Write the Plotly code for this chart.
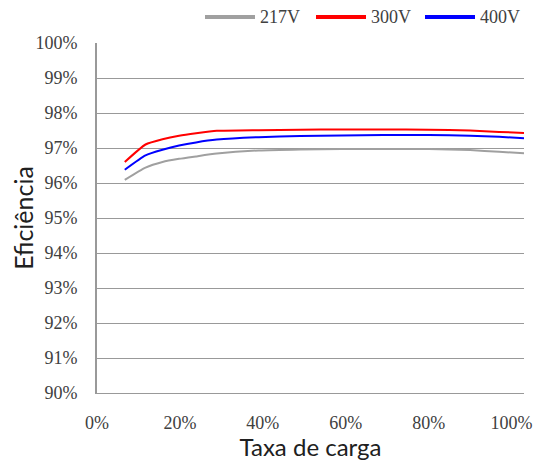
import plotly.graph_objects as go

load = [0.067, 0.117, 0.158, 0.198, 0.239, 0.289, 0.39, 0.49, 0.59, 0.69, 0.80, 0.90, 0.97, 1.03]
eff_217 = [0.9609, 0.9644, 0.9660, 0.9669, 0.9676, 0.9684, 0.9693, 0.9696, 0.9697, 0.9697, 0.9697, 0.9694, 0.9689, 0.9685]
eff_300 = [0.9660, 0.9710, 0.9725, 0.9735, 0.9742, 0.9749, 0.9751, 0.9752, 0.9753, 0.9753, 0.9752, 0.9750, 0.9746, 0.9743]
eff_400 = [0.9638, 0.9679, 0.9695, 0.9707, 0.9716, 0.9724, 0.9731, 0.9734, 0.9736, 0.9737, 0.9737, 0.9735, 0.9732, 0.9728]

series = [("217V", eff_217, "#a0a0a0"), ("300V", eff_300, "#ff0000"), ("400V", eff_400, "#0000ff")]

x_ticks = [0, 0.2, 0.4, 0.6, 0.8, 1.0]
x_labels = ["0%", "20%", "40%", "60%", "80%", "100%"]
y_ticks = [0.90, 0.91, 0.92, 0.93, 0.94, 0.95, 0.96, 0.97, 0.98, 0.99, 1.00]
y_labels = ["90%", "91%", "92%", "93%", "94%", "95%", "96%", "97%", "98%", "99%", "100%"]

fig = go.Figure()
for name, vals, col in series:
    fig.add_trace(go.Scatter(x=load, y=vals, mode="lines", name=name,
                             line=dict(color=col, width=2, shape="spline", smoothing=0.5),
                             showlegend=False))

W, H = 544, 453
L, R, T, B = 89, 28, 35, 68
PW, PH = W - L - R, H - T - B
serif = "Liberation Serif, serif"
tickfont = dict(family=serif, size=18, color="#404040")

# manual legend (pixel layout converted to paper coordinates)
leg_y = (PH + T - 9) / PH
leg_starts = [197, 308, 417]
shapes, annos = [], []
for (name, _, col), x0 in zip(series, leg_starts):
    shapes.append(dict(type="line", xref="paper", yref="paper",
                       x0=(x0 - L) / PW, x1=(x0 + 50 - L) / PW, y0=leg_y, y1=leg_y,
                       line=dict(color=col, width=4)))
    annos.append(dict(xref="paper", yref="paper", x=(x0 + 53 - L) / PW, y=leg_y,
                      xanchor="left", yanchor="middle", text=name, showarrow=False,
                      font=dict(family=serif, size=18, color="#404040")))

fig.update_layout(
    width=W, height=H,
    margin=dict(l=L, r=R, t=T, b=B),
    paper_bgcolor="white", plot_bgcolor="white",
    showlegend=False, shapes=shapes, annotations=annos,
    xaxis=dict(range=[0, 1.03], tickvals=x_ticks, ticktext=x_labels, automargin=False,
               showgrid=False, zeroline=False, showline=True, linecolor="#999999", linewidth=1,
               tickfont=tickfont, ticklabelstandoff=13,
               title=dict(text="Taxa de carga", font=dict(family="Lato", size=24, color="#202020"), standoff=8)),
    yaxis=dict(range=[0.90, 1.00], tickvals=y_ticks, ticktext=y_labels, automargin=False,
               showgrid=True, gridcolor="#999999", gridwidth=1, zeroline=False,
               showline=True, linecolor="#999999", linewidth=2,
               tickfont=tickfont, ticklabelstandoff=14,
               title=dict(text="Eficiência", font=dict(family="Lato", size=25, color="#202020"), standoff=4)),
)
fig.write_html("out.html")
